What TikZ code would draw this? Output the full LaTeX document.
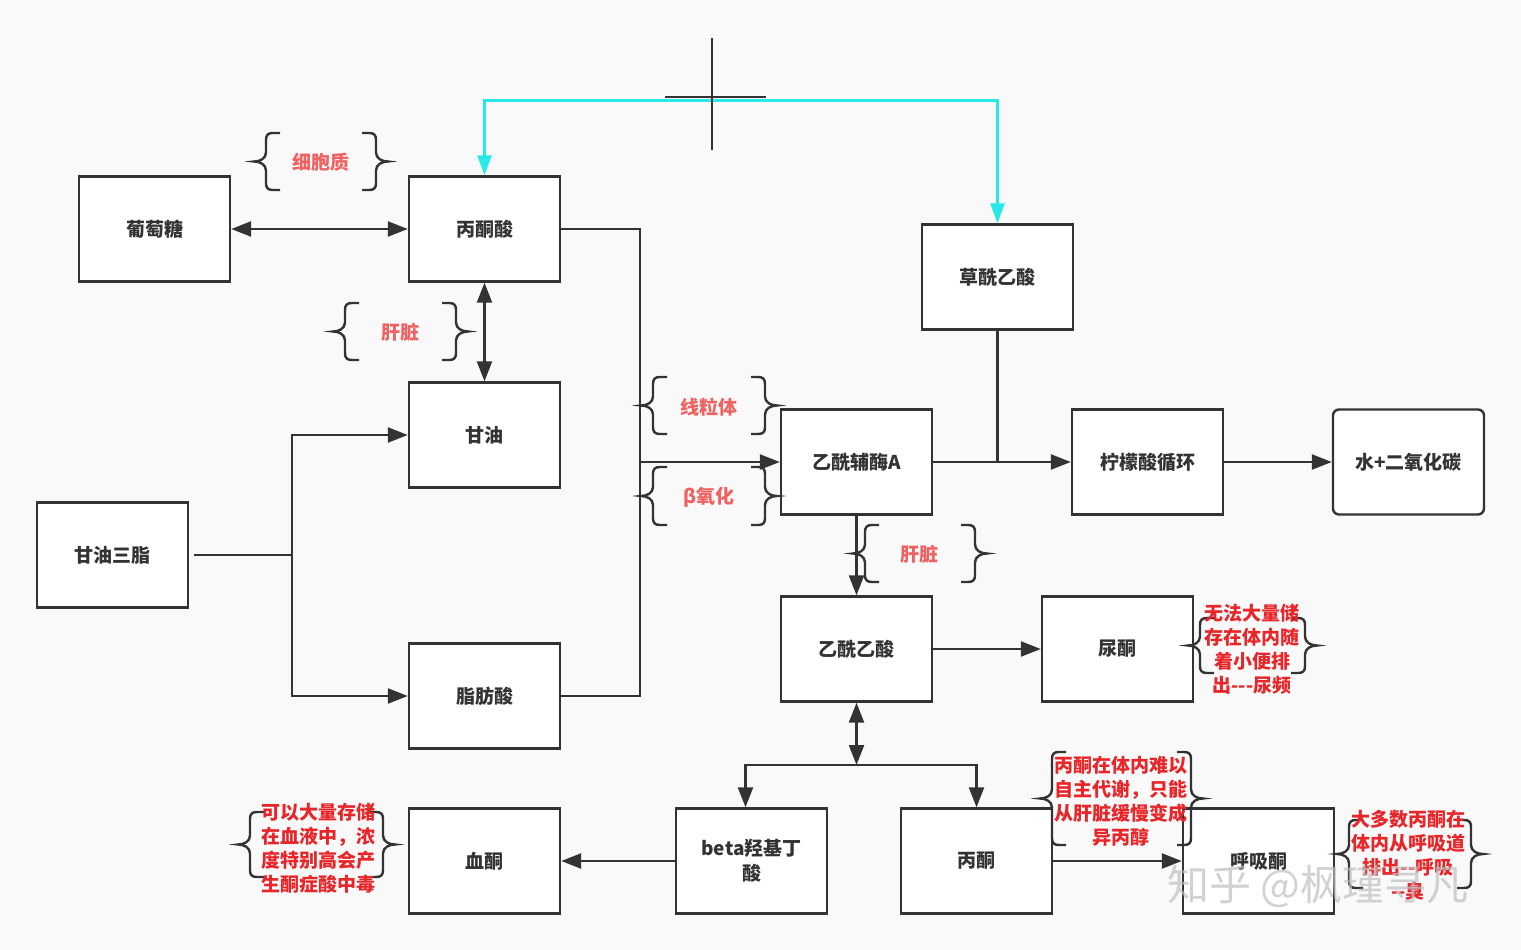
\documentclass[tikz,border=0pt]{standalone}
\usepackage{fontspec}
\setmainfont{Noto Sans CJK SC}
\usetikzlibrary{arrows.meta}
\definecolor{linegray}{RGB}{51,51,51}
\definecolor{bgcol}{RGB}{249,249,249}
\definecolor{pinkred}{RGB}{240,98,98}
\definecolor{notered}{RGB}{232,38,42}
\definecolor{cyanline}{RGB}{40,232,232}
% left brace: tip x, top y, bottom y
\newcommand{\brL}[3]{%
  \pgfmathsetmacro\bm{(#2+#3)/2}%
  \draw[bracket] ({#1+26},#2) -- ({#1+19},#2) .. controls ({#1+14},#2) and ({#1+12},{#2+2}) .. ({#1+12},{#2+7})
    -- ({#1+12},{\bm-9}) .. controls ({#1+12},{\bm-3}) and ({#1+6},\bm) .. (#1,\bm)
    .. controls ({#1+6},\bm) and ({#1+12},{\bm+3}) .. ({#1+12},{\bm+9})
    -- ({#1+12},{#3-7}) .. controls ({#1+12},{#3-2}) and ({#1+14},#3) .. ({#1+19},#3) -- ({#1+26},#3);}
% right brace: tip x, top y, bottom y
\newcommand{\brR}[3]{%
  \pgfmathsetmacro\bm{(#2+#3)/2}%
  \draw[bracket] ({#1-26},#2) -- ({#1-19},#2) .. controls ({#1-14},#2) and ({#1-12},{#2+2}) .. ({#1-12},{#2+7})
    -- ({#1-12},{\bm-9}) .. controls ({#1-12},{\bm-3}) and ({#1-6},\bm) .. (#1,\bm)
    .. controls ({#1-6},\bm) and ({#1-12},{\bm+3}) .. ({#1-12},{\bm+9})
    -- ({#1-12},{#3-7}) .. controls ({#1-12},{#3-2}) and ({#1-14},#3) .. ({#1-19},#3) -- ({#1-26},#3);}
\begin{document}
\begin{tikzpicture}[x=1pt,y=-1pt,
  box/.style={draw=linegray, line width=2.4pt, fill=white, minimum width=151pt, minimum height=105pt,
    inner sep=0pt, align=center, text=linegray, font=\fontsize{19}{25}\selectfont\bfseries},
  link/.style={draw=linegray, line width=2.4pt},
  arr/.style={link, -{Triangle[length=20pt,width=15pt]}},
  darr/.style={link, {Triangle[length=20pt,width=15pt]}-{Triangle[length=20pt,width=15pt]}},
  cyanlink/.style={draw=cyanline, line width=2.4pt, {Triangle[length=20pt,width=14pt]}-{Triangle[length=20pt,width=14pt]}},
  bracket/.style={draw=linegray, line width=2.4pt},
  place/.style={text=pinkred, font=\fontsize{19}{23}\selectfont\bfseries},
  note/.style={text=notered, inner sep=0pt, align=center, font=\fontsize{19}{24}\selectfont\bfseries},
]
  \fill[bgcol] (0,0) rectangle (1521,950);
  \useasboundingbox (0,0) rectangle (1521,950);

  \node[box] (glucose) at (154.5,229) {葡萄糖};
  \node[box] (pyruvate) at (484.5,229) {丙酮酸};
  \node[box] (glycerol) at (484.5,435) {甘油};
  \node[box] (tg) at (112.5,555) {甘油三脂};
  \node[box] (fa) at (484.5,696) {脂肪酸};
  \node[box] (oaa) at (997.5,277) {草酰乙酸};
  \node[box] (acoa) at (856.5,462) {乙酰辅酶A};
  \node[box] (tca) at (1147.5,462) {柠檬酸循环};
  \node[box, rounded corners=6pt] (water) at (1408.5,462) {水+二氧化碳};
  \node[box] (acac) at (856.5,649) {乙酰乙酸};
  \node[box] (urine) at (1117.5,649) {尿酮};
  \node[box] (blood) at (484.5,861) {血酮};
  \node[box] (bhb) at (751.5,861) {beta羟基丁\\酸};
  \node[box] (acetone) at (976.5,861) {丙酮};
  \node[box] (breath) at (1258.5,861) {呼吸酮};

  \coordinate (tgsplit) at (292,555);
  \coordinate (mbus) at (640,462);
  \coordinate (kbus) at (856.5,765);

  \draw[darr] (glucose) -- (pyruvate);
  \draw[darr] (pyruvate) -- (glycerol);
  \draw[link] ([xshift=5pt]tg.east) -- (tgsplit);
  \draw[arr] (tgsplit) |- (glycerol.west);
  \draw[arr] (tgsplit) |- (fa.west);
  \draw[link] (pyruvate.east) -| (mbus) |- (fa.east);
  \draw[arr] (mbus) -- (acoa.west);
  \draw[cyanlink] (pyruvate.north) -- ++(0,-75) -| (oaa.north);
  \draw[link] (oaa.south) -- (oaa.south |- acoa.east);
  \draw[arr] (acoa) -- (tca);
  \draw[arr] (tca) -- (water);
  \draw[arr] (acoa) -- (acac);
  \draw[arr] (acac) -- (urine);
  \draw[darr] (acac) -- (kbus);
  \draw[arr] (kbus) -| ([xshift=-6pt]bhb.north);
  \draw[arr] (kbus) -| (acetone.north);
  \draw[arr] (bhb) -- (blood);
  \draw[arr] (acetone) -- (breath);

  \draw[link] (665,97) -- (766,97);
  \draw[link] (712,38) -- (712,150);

  \brL{254}{133}{190} \brR{388}{133}{190}
  \node[place] (cyto) at (321,162) {细胞质};
  \brL{333}{303}{360} \brR{468}{303}{360}
  \node[place] (liver1) at (400,332) {肝脏};
  \brL{641}{377}{434} \brR{777}{377}{434}
  \node[place] (mito) at (709,407) {线粒体};
  \brL{641}{467}{525} \brR{777}{467}{525}
  \node[place] (beta) at (709,497) {β氧化};
  \brL{853}{525}{582} \brR{987}{525}{582}
  \node[place] (liver2) at (919,554) {肝脏};

  \brL{1188}{618}{673} \brR{1317}{618}{673}
  \node[note] (urinenote) at (1252,649) {无法大量储\\存在体内随\\着小便排\\出-{}-{}-尿频};
  \brL{1040}{752}{845} \brR{1203}{752}{845}
  \node[note] (acenote) at (1121,801) {丙酮在体内难以\\自主代谢，只能\\从肝脏缓慢变成\\异丙醇};
  \brL{238}{812}{877} \brR{395}{812}{877}
  \node[note] (bloodnote) at (318,848) {可以大量存储\\在血液中，浓\\度特别高会产\\生酮症酸中毒};
  \brL{1337}{820}{888} \brR{1483}{820}{888}
  \node[note] (breathnote) at (1408,855) {大多数丙酮在\\体内从呼吸道\\排出-{}-呼吸\\-{}-臭};

  \node[text=gray!50, opacity=0.7, font=\fontsize{42}{42}\selectfont] (mark) at (1318,886) {知乎 @枫瑾寻凡};
\end{tikzpicture}
\end{document}
